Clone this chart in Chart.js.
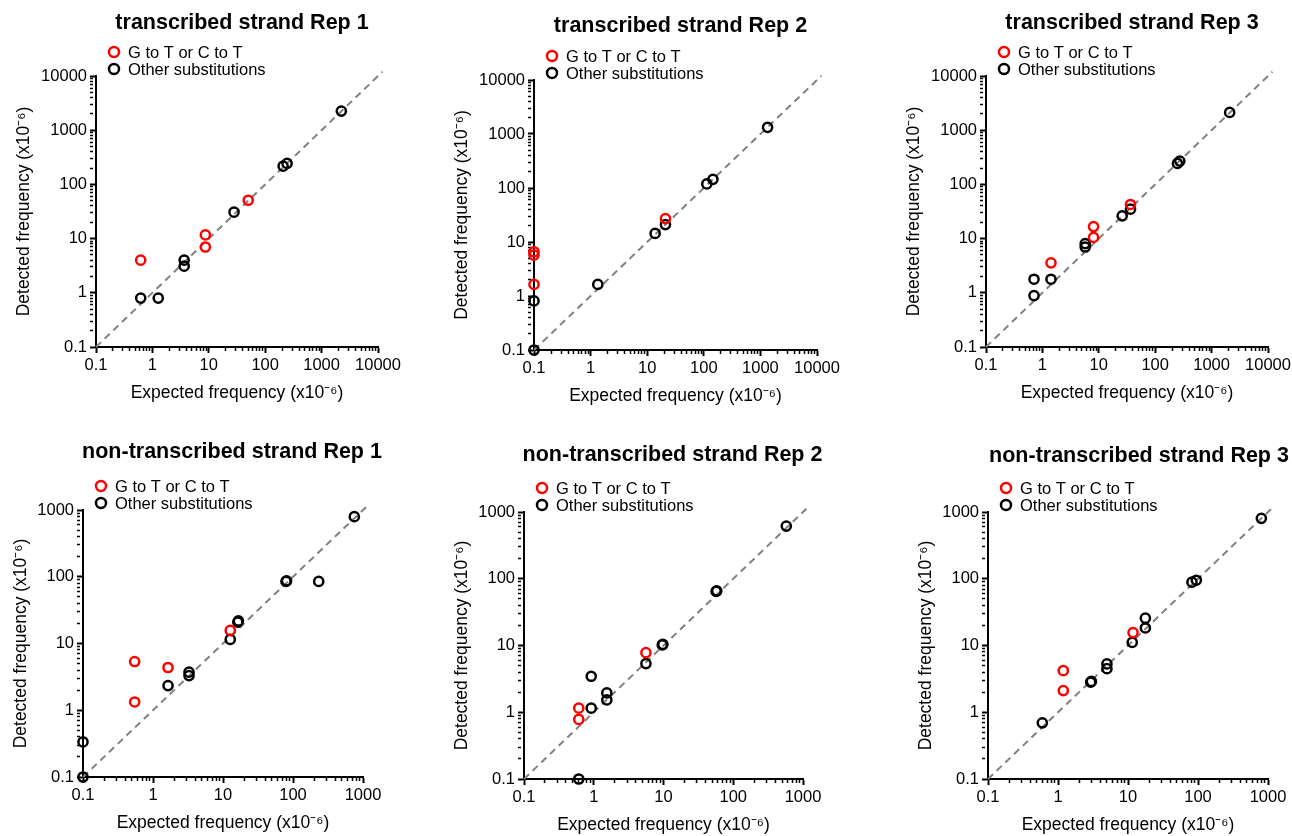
<!DOCTYPE html>
<html>
<head>
<meta charset="utf-8">
<script src="https://cdn.jsdelivr.net/npm/chart.js@4"></script>
<style>
  html, body { margin: 0; padding: 0; background: #fff; overflow: hidden; }
  body { width: 1292px; height: 836px; position: relative; }
  canvas { position: absolute; }
</style>
</head>
<body>
<script>
// series names and panel titles
const seriesLabels = ["G to T or C to T", "Other substitutions"];
const panelTitles = [
    "transcribed strand Rep 1", "transcribed strand Rep 2", "transcribed strand Rep 3",
    "non-transcribed strand Rep 1", "non-transcribed strand Rep 2", "non-transcribed strand Rep 3"
];

// axis tick labels (log scale, major decades)
const ticksTopRow = [0.1, 1, 10, 100, 1000, 10000];
const ticksBottomRow = [0.1, 1, 10, 100, 1000];

// identity line ends
const diagTopRow = [0.1, 12000];
const diagBottomRow = [0.1, 1200];

// [expected, detected] (x10^-6)
const ts1GC = [[0.62, 4.0], [8.7, 11.7], [8.7, 7.0], [50, 51]];
const ts1Other = [[0.62, 0.8], [1.27, 0.8], [3.66, 4.0], [3.66, 3.1], [28, 30.7], [208, 217], [244, 244], [2240, 2250]];

const ts2GC = [[0.1, 6.6], [0.1, 5.7], [0.1, 1.64], [21, 27]];
const ts2Other = [[0.1, 0.81], [0.1, 0.1], [1.34, 1.64], [13.8, 14.4], [21, 21], [113, 119], [145, 145], [1340, 1330]];

const ts3GC = [[1.42, 3.57], [8.07, 16.7], [8.07, 10.5], [36.5, 42.6]];
const ts3Other = [[0.71, 1.78], [0.71, 0.89], [1.42, 1.78], [5.74, 8.1], [5.74, 7.0], [26, 26.3], [36.5, 34.9], [248, 244], [273, 269], [2090, 2130]];

const nts1GC = [[0.547, 5.37], [0.547, 1.33], [1.64, 4.37], [12.7, 15.7]];
const nts1Other = [[0.1, 0.335], [0.1, 0.1], [1.64, 2.34], [3.27, 3.72], [3.27, 3.31], [12.7, 11.5], [16.3, 20.9], [16.6, 21.8], [79.4, 85], [81, 87], [233, 85], [752, 794]];

const nts2GC = [[0.61, 1.15], [0.61, 0.78], [5.6, 7.8]];
const nts2Other = [[0.61, 0.1], [0.92, 3.46], [0.92, 1.15], [1.54, 1.95], [1.54, 1.53], [5.6, 5.36], [9.6, 10.2], [9.8, 10.4], [56.8, 64.6], [58, 66], [576, 616]];

const nts3GC = [[1.19, 4.2], [1.19, 2.11], [11.8, 15.6]];
const nts3Other = [[0.597, 0.695], [2.93, 2.82], [3.0, 2.9], [5.0, 5.3], [5.0, 4.5], [11.5, 11.1], [17.7, 25.7], [17.7, 18.3], [82, 89], [94.7, 95], [804, 804]];

const FONT = '"Liberation Sans", Arial, Helvetica, sans-serif';
const RED = "#ff0000";
const BLACK = "#000000";

// plot rectangles on the page
const panels = [
    { gc: ts1GC, other: ts1Other, ticks: ticksTopRow, diag: diagTopRow, rect: [96, 76, 378, 347], yw: 82, tdx: 5, tdy: 53 },
    { gc: ts2GC, other: ts2Other, ticks: ticksTopRow, diag: diagTopRow, rect: [534, 80, 817, 350], yw: 82, tdx: 5, tdy: 54 },
    { gc: ts3GC, other: ts3Other, ticks: ticksTopRow, diag: diagTopRow, rect: [986, 76, 1268, 347], yw: 82, tdx: 5, tdy: 53 },
    { gc: nts1GC, other: nts1Other, ticks: ticksBottomRow, diag: diagBottomRow, rect: [83, 510, 363, 777], yw: 72, tdx: 9, tdy: 58 },
    { gc: nts2GC, other: nts2Other, ticks: ticksBottomRow, diag: diagBottomRow, rect: [524, 512, 803, 779], yw: 72, tdx: 9, tdy: 57 },
    { gc: nts3GC, other: nts3Other, ticks: ticksBottomRow, diag: diagBottomRow, rect: [988, 512, 1268, 779], yw: 72, tdx: 11, tdy: 56 }
];

const TOP_H = 70;
const X_H = 60;
const RIGHT_PAD = 30;

// title + legend drawn relative to the plot area
const panelText = {
    id: "panelText",
    afterDraw(chart, args, opts) {
        const { ctx, chartArea } = chart;
        ctx.save();
        ctx.fillStyle = "#000";
        ctx.textBaseline = "middle";
        ctx.textAlign = "center";
        ctx.font = "bold 21.5px " + FONT;
        ctx.fillText(opts.title, (chartArea.left + chartArea.right) / 2 + opts.dx, chartArea.top - opts.dy);

        ctx.textAlign = "left";
        ctx.font = "16.5px " + FONT;
        let row = 0;
        chart.data.datasets.forEach(ds => {
            if (!ds.label) return;
            const y = chartArea.top - 24 + row * 17;
            ctx.beginPath();
            ctx.arc(chartArea.left + 18, y, 5, 0, Math.PI * 2);
            ctx.lineWidth = 2.5;
            ctx.strokeStyle = ds.borderColor;
            ctx.stroke();
            ctx.fillStyle = "#000";
            ctx.fillText(ds.label, chartArea.left + 32, y + 1);
            row++;
        });
        ctx.restore();
    }
};

function tickValues(majors) {
    const vals = [];
    for (let i = 0; i < majors.length - 1; i++) {
        for (let k = 1; k <= 9; k++) vals.push(k === 1 ? majors[i] : majors[i] * k);
    }
    vals.push(majors[majors.length - 1]);
    return vals.map(v => ({ value: v, major: majors.includes(v) }));
}

function logAxis(majors, titleText, isX, axisSize) {
    return {
        type: "logarithmic",
        position: isX ? "bottom" : "left",
        min: majors[0],
        max: majors[majors.length - 1],
        afterBuildTicks: scale => { scale.ticks = tickValues(majors); },
        afterFit: scale => {
            if (isX) scale.height = axisSize; else scale.width = axisSize;
        },
        border: { display: true, color: "#000", width: 2 },
        grid: {
            drawOnChartArea: false,
            drawTicks: true,
            tickLength: 6,
            color: "#000",
            tickWidth: c => (c.tick && c.tick.major ? 2 : 1.5),
            tickBorderDash: c => (c.tick && c.tick.major ? [] : [3, 30])
        },
        ticks: {
            autoSkip: false,
            maxRotation: 0,
            padding: 3,
            color: "#000",
            font: { family: FONT, size: 16.5 },
            callback: (value, index, ticks) => (ticks[index].major ? String(value) : "")
        },
        title: {
            display: true,
            text: titleText,
            color: "#000",
            font: { family: FONT, size: 17.5 },
            padding: isX ? { top: 0, bottom: 3.5 } : { top: 0, bottom: 0 }
        }
    };
}

panels.forEach((p, i) => {
    const [l, t, r, b] = p.rect;
    const canvas = document.createElement("canvas");
    const w = p.yw + (r - l) + RIGHT_PAD;
    const h = TOP_H + (b - t) + X_H;
    canvas.width = w;
    canvas.height = h;
    canvas.style.left = (l - p.yw) + "px";
    canvas.style.top = (t - TOP_H) + "px";
    canvas.style.width = w + "px";
    canvas.style.height = h + "px";
    document.body.appendChild(canvas);

    new Chart(canvas.getContext("2d"), {
        type: "scatter",
        data: {
            datasets: [
                {
                    label: seriesLabels[0],
                    data: p.gc.map(([x, y]) => ({ x, y })),
                    borderColor: RED,
                    backgroundColor: "rgba(0,0,0,0)",
                    borderWidth: 2.5,
                    pointRadius: 4.6,
                    clip: false
                },
                {
                    label: seriesLabels[1],
                    data: p.other.map(([x, y]) => ({ x, y })),
                    borderColor: BLACK,
                    backgroundColor: "rgba(0,0,0,0)",
                    borderWidth: 2.5,
                    pointRadius: 4.6,
                    clip: false
                },
                {
                    label: "",
                    type: "line",
                    data: p.diag.map(v => ({ x: v, y: v })),
                    showLine: true,
                    borderColor: "#808080",
                    borderWidth: 2,
                    borderDash: [7, 5],
                    pointRadius: 0,
                    fill: false,
                    clip: false
                }
            ]
        },
        options: {
            responsive: false,
            animation: false,
            layout: { padding: { left: 0, top: TOP_H, right: RIGHT_PAD, bottom: 0 } },
            plugins: {
                legend: { display: false },
                title: { display: false },
                tooltip: { enabled: false },
                panelText: { title: panelTitles[i], dx: p.tdx, dy: p.tdy }
            },
            scales: {
                x: logAxis(p.ticks, "Expected frequency (x10\u207B\u2076)", true, X_H),
                y: logAxis(p.ticks, "Detected frequency (x10\u207B\u2076)", false, p.yw)
            }
        },
        plugins: [panelText]
    });
});
</script>
</body>
</html>
